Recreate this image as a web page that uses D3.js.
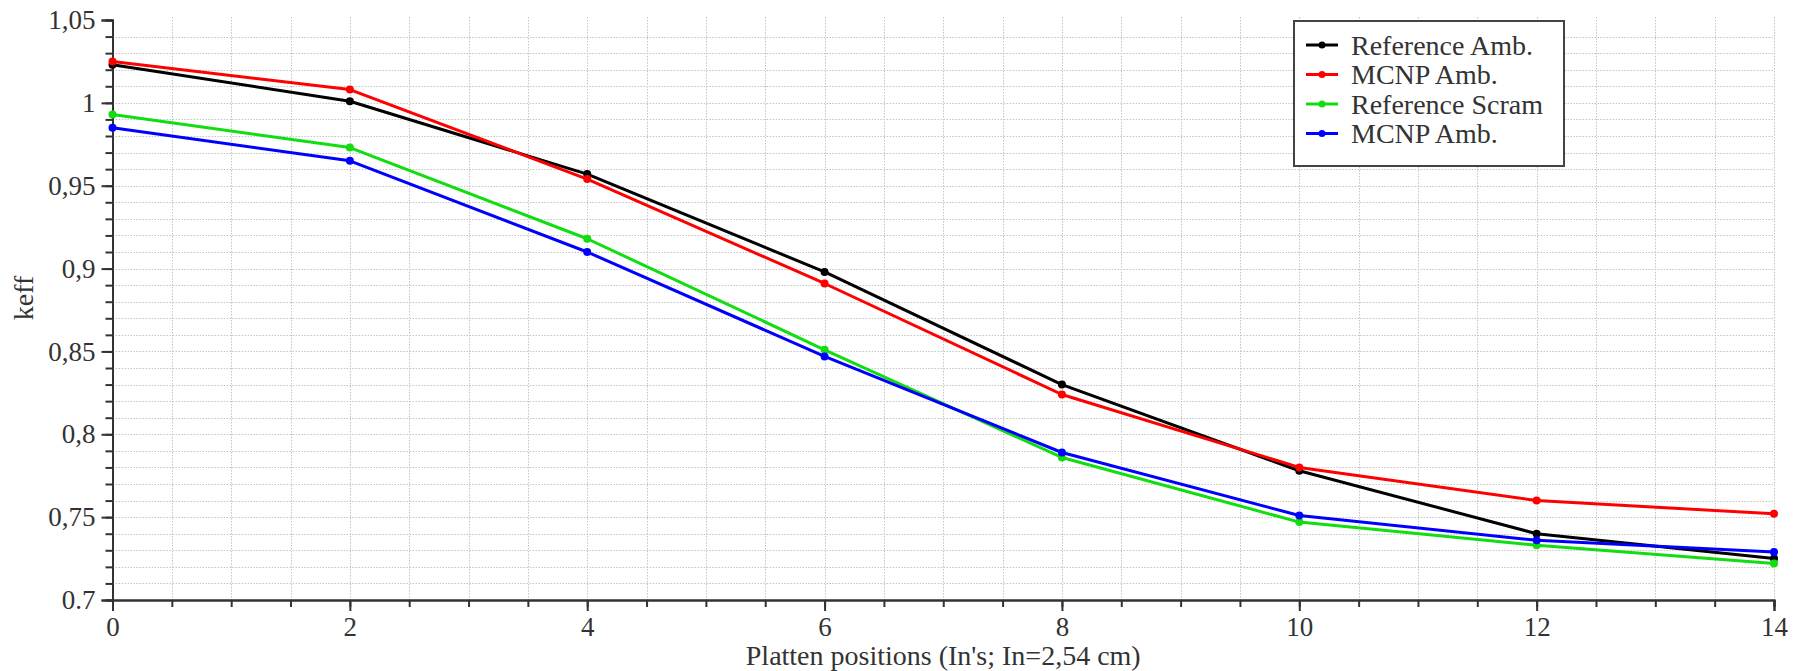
<!DOCTYPE html>
<html>
<head>
<meta charset="utf-8">
<script src="https://cdn.jsdelivr.net/npm/d3@7/dist/d3.min.js"></script>
<style>
    body { margin: 0; background: #fff; }
    text { font-family: "Liberation Serif", "Times New Roman", serif; fill: #333; }
</style>
</head>
<body>
<svg id="chart" width="1799" height="671"></svg>
<script>
var positions = [0, 2, 4, 6, 8, 10, 12, 14];
var refAmb = [1.023, 1.001, 0.957, 0.898, 0.830, 0.778, 0.740, 0.725];
var mcnpAmb = [1.025, 1.008, 0.954, 0.891, 0.824, 0.780, 0.760, 0.752];
var refScram = [0.993, 0.973, 0.918, 0.851, 0.786, 0.747, 0.733, 0.722];
var mcnpScram = [0.985, 0.965, 0.910, 0.847, 0.789, 0.751, 0.736, 0.729];
var seriesNames = ["Reference Amb.", "MCNP Amb.", "Reference Scram", "MCNP Amb."];
var seriesColors = ["#000000", "#ff0000", "#11dd11", "#0000ff"];
var xTicks = [0, 2, 4, 6, 8, 10, 12, 14];
var yTicks = [0.7, 0.75, 0.8, 0.85, 0.9, 0.95, 1, 1.05];
var yTickLabels = ["0.7", "0,75", "0,8", "0,85", "0,9", "0,95", "1", "1,05"];
var xTitle = "Platten positions (In's; In=2,54 cm)";
var yTitle = "keff";

var svg = d3.select("#chart");
var margin = { top: 20, right: 25, bottom: 71, left: 112.5 };
var width = 1799, height = 671;

var x = d3.scaleLinear().domain([0, 14]).range([margin.left, width - margin.right]);
var y = d3.scaleLinear().domain([0.7, 1.05]).range([height - margin.bottom, margin.top]);

var xMinor = d3.range(0, 29).map(function (d) { return d / 2; });
var yMinor = d3.range(70, 106).map(function (d) { return d / 100; });

// dotted grid
var grid = svg.append("g").attr("class", "grid")
    .attr("stroke", "#c4c4c4")
    .attr("stroke-width", 1)
    .attr("stroke-dasharray", "1.5,1.5")
;
grid.selectAll("line.h")
    .data(yMinor.filter(function (d) { return d > 0.705 && d < 1.045; }))
    .enter().append("line")
    .attr("class", "h")
    .attr("x1", x(0)).attr("x2", x(14))
    .attr("y1", function (d) { return Math.round(y(d)) + 0.5; })
    .attr("y2", function (d) { return Math.round(y(d)) + 0.5; })
;
grid.selectAll("line.v")
    .data(xMinor.filter(function (d) { return d > 0; }))
    .enter().append("line")
    .attr("class", "v")
    .attr("y1", margin.top - 3).attr("y2", y(0.7))
    .attr("x1", function (d) { return Math.round(x(d)) + 0.5; })
    .attr("x2", function (d) { return Math.round(x(d)) + 0.5; })
;

// axes
var xAxisMinor = svg.append("g")
    .attr("transform", "translate(0," + y(0.7) + ")")
    .call(d3.axisBottom(x).tickValues(xMinor).tickSize(7).tickFormat(""))
;
var xAxis = svg.append("g")
    .attr("transform", "translate(0," + y(0.7) + ")")
    .call(d3.axisBottom(x).tickValues(xTicks).tickSize(11).tickPadding(6).tickFormat(d3.format("d")))
;
var yAxisMinor = svg.append("g")
    .attr("transform", "translate(" + x(0) + ",0)")
    .call(d3.axisLeft(y).tickValues(yMinor).tickSize(7).tickFormat(""))
;
var yAxis = svg.append("g")
    .attr("transform", "translate(" + x(0) + ",0)")
    .call(d3.axisLeft(y).tickValues(yTicks).tickSize(11).tickPadding(6)
        .tickFormat(function (d, i) { return yTickLabels[i]; }))
;
[xAxisMinor, xAxis, yAxisMinor, yAxis].forEach(function (g) {
    g.select(".domain").attr("stroke", "#333").attr("stroke-width", 2);
    g.selectAll(".tick line").attr("stroke", "#333").attr("stroke-width", 2);
    g.selectAll(".tick text").attr("font-size", 27).attr("fill", "#333")
        .style("font-family", "'Liberation Serif', serif");
});

svg.append("text")
    .attr("x", (x(0) + x(14)) / 2)
    .attr("y", 665)
    .attr("text-anchor", "middle")
    .attr("font-size", 28)
    .text(xTitle)
;
svg.append("text")
    .attr("transform", "translate(33," + ((y(0.7) + y(1.05)) / 2 - 12) + ") rotate(-90)")
    .attr("text-anchor", "middle")
    .attr("font-size", 28)
    .text(yTitle)
;

// series
var series = [refAmb, mcnpAmb, refScram, mcnpScram].map(function (vals, i) {
    return {
        name: seriesNames[i],
        color: seriesColors[i],
        points: positions.map(function (p, j) { return { x: p, y: vals[j] }; })
    };
});

var line = d3.line()
    .x(function (d) { return x(d.x); })
    .y(function (d) { return y(d.y); })
;

var lines = svg.append("g").selectAll("g.series")
    .data(series)
    .enter().append("g")
    .attr("class", "series")
;
lines.append("path")
    .attr("d", function (d) { return line(d.points); })
    .attr("fill", "none")
    .attr("stroke", function (d) { return d.color; })
    .attr("stroke-width", 3)
    .attr("stroke-linejoin", "round")
;
lines.selectAll("circle")
    .data(function (d) { return d.points.map(function (p) { return { p: p, color: d.color }; }); })
    .enter().append("circle")
    .attr("cx", function (d) { return x(d.p.x); })
    .attr("cy", function (d) { return y(d.p.y); })
    .attr("r", 4)
    .attr("fill", function (d) { return d.color; })
;

// legend
var legend = svg.append("g").attr("transform", "translate(1294,21)");
legend.append("rect")
    .attr("x", 0).attr("y", 0)
    .attr("width", 270).attr("height", 145)
    .attr("fill", "#fff")
    .attr("stroke", "#444")
    .attr("stroke-width", 2)
;
var item = legend.selectAll("g.item")
    .data(series)
    .enter().append("g")
    .attr("class", "item")
    .attr("transform", function (d, i) { return "translate(0," + (24 + i * 29.5) + ")"; })
;
item.append("line")
    .attr("x1", 12).attr("x2", 44)
    .attr("stroke", function (d) { return d.color; })
    .attr("stroke-width", 3)
;
item.append("circle")
    .attr("cx", 28).attr("r", 3.5)
    .attr("fill", function (d) { return d.color; })
;
item.append("text")
    .attr("x", 57)
    .attr("dy", "0.35em")
    .attr("font-size", 28)
    .attr("fill", "#222")
    .text(function (d) { return d.name; })
;
</script>
</body>
</html>
